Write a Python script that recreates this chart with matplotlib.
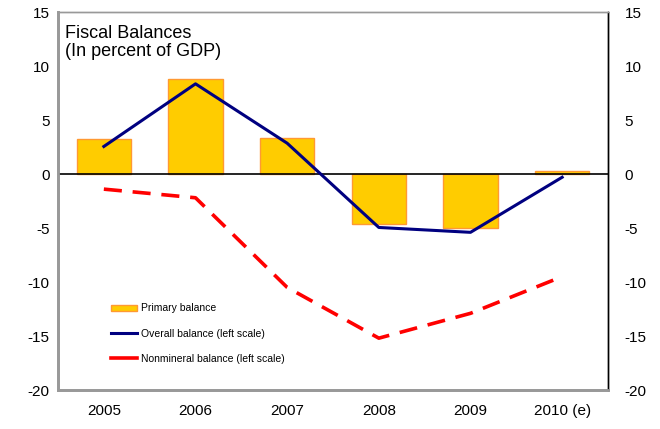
import numpy as np
import matplotlib.pyplot as plt
from matplotlib.patches import Patch
from matplotlib.lines import Line2D

plt.rcParams['font.family'] = ['Liberation Sans', 'DejaVu Sans']
plt.rcParams['axes.unicode_minus'] = False

years = ["2005", "2006", "2007", "2008", "2009", "2010 (e)"]
primary = [3.25, 8.8, 3.3, -4.6, -5.0, 0.3]
overall = [2.55, 8.35, 2.85, -4.95, -5.4, -0.3]
nonmineral = [-1.4, -2.2, -10.5, -15.2, -12.9, -9.5]

fig = plt.figure(figsize=(6.6, 4.29), dpi=100)
ax = fig.add_axes([0.0879, 0.0909, 0.8333, 0.8811])

x = np.arange(len(years))
ax.bar(x, primary, width=0.59, color="#FFCC00", edgecolor="#FF9933", linewidth=1, zorder=2)
ax.axhline(0, color="black", linewidth=1.2, zorder=3)
ax.plot(x, overall, color="#000080", linewidth=2.2, zorder=4)
ax.plot(x, nonmineral, color="#FF0000", linewidth=2.6, dashes=(5, 3), zorder=4)

ax.set_xlim(-0.5, len(years) - 0.5)
ax.set_ylim(-20, 15)
ax.set_yticks(range(-20, 16, 5))
ax.set_xticks(x)
ax.set_xticklabels(years)
ax.tick_params(axis="both", length=0, labelsize=11, pad=6)
ax.tick_params(axis="x", pad=10)

ax2 = ax.twinx()
ax2.set_ylim(-20, 15)
ax2.set_yticks(range(-20, 16, 5))
ax2.tick_params(axis="y", length=0, labelsize=11, pad=12)

for a in (ax, ax2):
    for s in ("left", "bottom", "top"):
        a.spines[s].set_color("#999999")
    a.spines["left"].set_linewidth(2)
    a.spines["bottom"].set_linewidth(2)
    a.spines["top"].set_linewidth(1)
    a.spines["right"].set_color("black")
    a.spines["right"].set_linewidth(1)

ax.text(0.012, 0.965, "Fiscal Balances\n(In percent of GDP)", transform=ax.transAxes,
        fontsize=13, va="top", ha="left", linespacing=1.05)

handles = [
    Patch(facecolor="#FFCC00", edgecolor="#FF9933", label="Primary balance"),
    Line2D([], [], color="#000080", linewidth=2.2, label="Overall balance (left scale)"),
    Line2D([], [], color="#FF0000", linewidth=2.6, label="Nonmineral balance (left scale)"),
]
ax.legend(handles=handles, loc="lower left", bbox_to_anchor=(0.08, 0.045), frameon=False,
          fontsize=7.5, handlelength=2.5, handleheight=0.5, labelspacing=1.45, handletextpad=0.3)

fig.savefig("out.png", dpi=100)
